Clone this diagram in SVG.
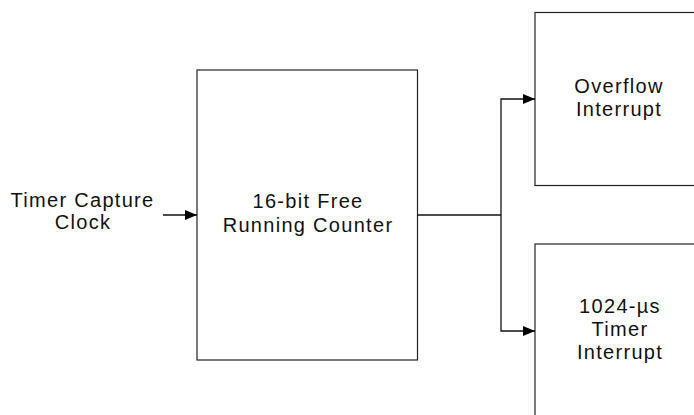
<svg xmlns="http://www.w3.org/2000/svg" width="694" height="415" viewBox="0 0 694 415">
<style>
.box{fill:#fff;stroke:#222;stroke-width:1.2}
.lbl{font-family:"Liberation Sans",Arial,sans-serif;font-size:20px;letter-spacing:1.3px;fill:#111;text-anchor:middle}
.wire{fill:none;stroke:#111;stroke-width:1.3}
</style>
<defs>
<marker id="ah" markerWidth="12" markerHeight="10" refX="12" refY="5" orient="auto" markerUnits="userSpaceOnUse">
<path d="M0,0 L12,5 L0,10 Z" fill="#000"/>
</marker>
</defs>
<rect width="694" height="415" fill="#fff"/>
<g id="input">
<text class="lbl" x="82.5" y="207">Timer Capture</text>
<text class="lbl" x="83" y="229">Clock</text>
</g>
<g id="counter">
<rect class="box" x="197" y="70" width="220.5" height="290"/>
<text class="lbl" x="308" y="208">16-bit Free</text>
<text class="lbl" x="308" y="232">Running Counter</text>
</g>
<g id="overflow">
<rect class="box" x="535" y="12.5" width="170" height="173"/>
<text class="lbl" x="619" y="93">Overflow</text>
<text class="lbl" x="619" y="116">Interrupt</text>
</g>
<g id="timer">
<rect class="box" x="535" y="244" width="170" height="190"/>
<text class="lbl" x="620" y="313">1024-µs</text>
<text class="lbl" x="620" y="336">Timer</text>
<text class="lbl" x="620" y="359">Interrupt</text>
</g>
<g id="connectors">
<path class="wire" d="M163,215 H197" marker-end="url(#ah)"/>
<path class="wire" d="M417.5,215 H501"/>
<path class="wire" d="M501,215 V99 H535" marker-end="url(#ah)"/>
<path class="wire" d="M501,215 V331 H535" marker-end="url(#ah)"/>
</g>
</svg>
